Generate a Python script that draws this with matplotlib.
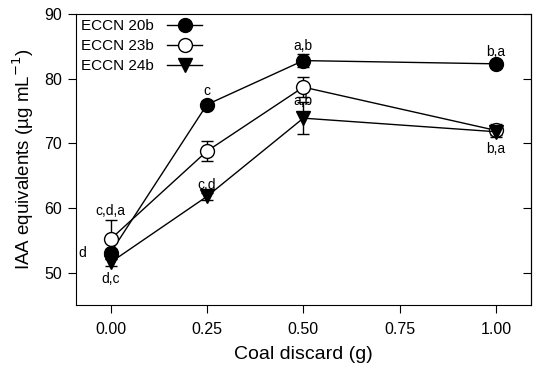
import matplotlib.pyplot as plt
from matplotlib.lines import Line2D
import numpy as np

plt.rcParams['font.family'] = ['Liberation Sans', 'DejaVu Sans']

# Datos
coal = [0.0, 0.25, 0.5, 1.0]
eccn20b = [53.1, 76.0, 82.8, 82.3]
eccn20b_err = [0.6, 0.5, 1.0, 0.5]
eccn23b = [55.2, 68.8, 78.7, 72.0]
eccn23b_err = [3.0, 1.5, 1.5, 1.0]
eccn24b = [51.6, 61.8, 73.9, 71.8]
eccn24b_err = [0.5, 0.5, 2.5, 0.5]

series_names = ['ECCN 20b', 'ECCN 23b', 'ECCN 24b']

# letras de significancia: (x, y, texto)
letters_x = [0.0, -0.073, 0.0, 0.25, 0.25, 0.5, 0.5, 1.0, 1.0]
letters_y = [59.6, 53.1, 49.1, 78.1, 63.5, 85.0, 76.6, 84.2, 69.2]
letters_txt = ['c,d,a', 'd', 'd,c', 'c', 'c,d', 'a,b', 'a,b', 'b,a', 'b,a']

fig, ax = plt.subplots(figsize=(5.5, 3.79), dpi=100)
fig.subplots_adjust(left=0.138, right=0.965, top=0.963, bottom=0.195)

estilo = dict(color='black', mec='black', ms=10, lw=1, capsize=4, elinewidth=1)
ax.errorbar(coal, eccn20b, yerr=eccn20b_err, fmt='-o', mfc='black', **estilo)
ax.errorbar(coal, eccn23b, yerr=eccn23b_err, fmt='-o', mfc='white', **estilo)
ax.errorbar(coal, eccn24b, yerr=eccn24b_err, fmt='-v', mfc='black', **estilo)

for x, y, t in zip(letters_x, letters_y, letters_txt):
    ax.text(x, y, t, ha='center', va='center', fontsize=10)

ax.set_xlim(-0.09, 1.09)
ax.set_ylim(45, 90)
ax.set_xticks([0, 0.25, 0.5, 0.75, 1.0])
ax.set_xticklabels(['0.00', '0.25', '0.50', '0.75', '1.00'])
ax.set_yticks([50, 60, 70, 80, 90])
ax.tick_params(axis='x', labelsize=11.5, direction='out', length=6, pad=6)
ax.tick_params(axis='y', labelsize=11.5, direction='out', length=6, pad=4)

# ticks hacia adentro en el eje derecho
sec = ax.secondary_yaxis('right')
sec.set_yticks([50, 60, 70, 80, 90])
sec.tick_params(direction='in', length=6, labelright=False)

ax.set_xlabel('Coal discard (g)', fontsize=14, labelpad=7)
ax.set_ylabel('IAA equivalents (µg mL$^{-1}$)', fontsize=13.5, labelpad=6)

handles = [
    Line2D([], [], color='black', lw=1, marker='o', mfc='black', mec='black', ms=10),
    Line2D([], [], color='black', lw=1, marker='o', mfc='white', mec='black', ms=10),
    Line2D([], [], color='black', lw=1, marker='v', mfc='black', mec='black', ms=10),
]
ax.legend(handles, series_names, loc='upper left', frameon=False,
          markerfirst=False, fontsize=11, handlelength=2.3,
          handletextpad=0.85, borderaxespad=0.25, borderpad=0.1,
          labelspacing=0.38)
plt.savefig('out.png', dpi=100)
